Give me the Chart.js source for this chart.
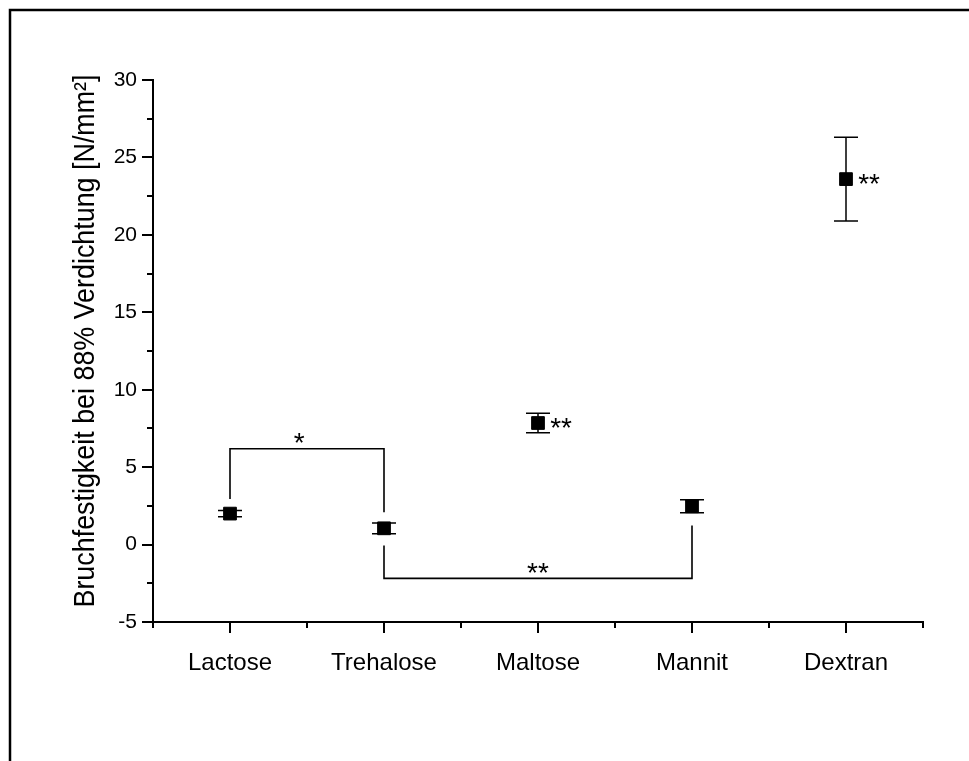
<!DOCTYPE html>
<html><head><meta charset="utf-8">
<script src="https://cdn.jsdelivr.net/npm/chart.js@4"></script>
<style>html,body{margin:0;padding:0;background:#fff}canvas{display:block}</style>
</head><body>
<canvas id="c" width="969" height="761"></canvas>
<script>
const categories = ['Lactose','Trehalose','Maltose','Mannit','Dextran'];
const means = [2.0, 1.05, 7.85, 2.47, 23.6];
const errors = [0.2, 0.35, 0.63, 0.42, 2.7];
const yTickValues = [-5,-2.5,0,2.5,5,7.5,10,12.5,15,17.5,20,22.5,25,27.5,30];
const xTickValues = [-0.5,0,0.5,1,1.5,2,2.5,3,3.5,4,4.5];
const yTitle = 'Bruchfestigkeit bei 88% Verdichtung [N/mm²]';
// significance brackets
const bracketFrom = [0, 1];
const bracketTo = [1, 3];
const bracketStartY = [2.95, -0.06];
const bracketBarY = [6.19, -2.18];
const bracketEndY = [2.09, 1.23];
const bracketLabels = ['*', '**'];
const bracketLabelX = [0.45, 2];
const bracketLabelY = [6.85, -1.5];
// asterisks beside points
const markLabels = ['**', '**'];
const markX = [2.15, 4.15];
const markY = [7.85, 23.6];

const FONT = "'Liberation Sans', Arial, sans-serif";

function centeredText(ctx, txt, x, y) {
  const m = ctx.measureText(txt);
  const a = m.actualBoundingBoxAscent, d = m.actualBoundingBoxDescent;
  ctx.textBaseline = 'alphabetic';
  ctx.textAlign = 'center';
  ctx.fillText(txt, x, y + (a - d) / 2);
}

const customPlugin = {
  id: 'custom',
  beforeDraw(chart) {
    const ctx = chart.ctx;
    ctx.save();
    ctx.fillStyle = '#fff';
    ctx.fillRect(0, 0, chart.width, chart.height);
    ctx.strokeStyle = '#000';
    ctx.lineWidth = 2.5;
    ctx.strokeRect(10, 10, 1200, 1200);
    ctx.restore();
  },
  beforeDatasetsDraw(chart) {
    const ctx = chart.ctx, xs = chart.scales.x, ys = chart.scales.y;
    ctx.save();
    ctx.strokeStyle = '#000';
    ctx.lineWidth = 1.5;
    // error bars
    means.forEach((m, i) => {
      const x = xs.getPixelForValue(i);
      const yt = ys.getPixelForValue(m + errors[i]);
      const yb = ys.getPixelForValue(m - errors[i]);
      ctx.beginPath();
      ctx.moveTo(x, yt); ctx.lineTo(x, yb);
      ctx.moveTo(x - 12, yt); ctx.lineTo(x + 12, yt);
      ctx.moveTo(x - 12, yb); ctx.lineTo(x + 12, yb);
      ctx.stroke();
    });
    // brackets
    ctx.lineWidth = 1.6;
    bracketFrom.forEach((f, i) => {
      const x1 = xs.getPixelForValue(f), x2 = xs.getPixelForValue(bracketTo[i]);
      ctx.beginPath();
      ctx.moveTo(x1, ys.getPixelForValue(bracketStartY[i]));
      ctx.lineTo(x1, ys.getPixelForValue(bracketBarY[i]));
      ctx.lineTo(x2, ys.getPixelForValue(bracketBarY[i]));
      ctx.lineTo(x2, ys.getPixelForValue(bracketEndY[i]));
      ctx.stroke();
    });
    ctx.fillStyle = '#000';
    ctx.font = '28px ' + FONT;
    bracketLabels.forEach((t, i) => {
      centeredText(ctx, t, xs.getPixelForValue(bracketLabelX[i]), ys.getPixelForValue(bracketLabelY[i]));
    });
    markLabels.forEach((t, i) => {
      centeredText(ctx, t, xs.getPixelForValue(markX[i]), ys.getPixelForValue(markY[i]));
    });
    ctx.restore();
  },
  afterDraw(chart) {
    const ctx = chart.ctx, xs = chart.scales.x, ys = chart.scales.y, ca = chart.chartArea;
    ctx.save();
    ctx.strokeStyle = '#000';
    ctx.lineWidth = 2;
    ctx.beginPath();
    yTickValues.forEach(v => {
      const y = Math.round(ys.getPixelForValue(v));
      const len = (v % 5 === 0) ? 11 : 6;
      ctx.moveTo(ca.left - len, y); ctx.lineTo(ca.left, y);
    });
    xTickValues.forEach(v => {
      const x = Math.round(xs.getPixelForValue(v));
      const len = Number.isInteger(v) ? 11 : 6;
      ctx.moveTo(x, ca.bottom); ctx.lineTo(x, ca.bottom + len);
    });
    ctx.stroke();
    // y title
    ctx.fillStyle = '#000';
    ctx.font = '29px ' + FONT;
    const w = ctx.measureText(yTitle).width;
    const s = 533 / w;
    ctx.translate(94, (ys.getPixelForValue(30) + ys.getPixelForValue(-5)) / 2 - 10);
    ctx.rotate(-Math.PI / 2);
    ctx.scale(s, 1);
    ctx.textAlign = 'center';
    ctx.textBaseline = 'alphabetic';
    ctx.fillText(yTitle, 0, 0);
    ctx.restore();
  }
};

new Chart(document.getElementById('c'), {
  type: 'scatter',
  data: {
    datasets: [{
      data: means.map((m, i) => ({ x: i, y: m })),
      pointStyle: 'rect',
      pointRadius: 9,
      pointHoverRadius: 9,
      backgroundColor: '#000',
      borderColor: '#000',
      borderWidth: 1
    }]
  },
  options: {
    responsive: false,
    animation: false,
    devicePixelRatio: 1,
    layout: { padding: { left: 0, top: 80, right: 46, bottom: 0 } },
    plugins: { legend: { display: false }, tooltip: { enabled: false } },
    scales: {
      x: {
        type: 'linear', min: -0.5, max: 4.5,
        afterBuildTicks: (scale) => { scale.ticks = xTickValues.map(v => ({ value: v })); },
        afterFit: (scale) => { scale.height = 761 - 622; },
        grid: { display: false, drawTicks: false },
        border: { display: true, color: '#000', width: 2 },
        ticks: {
          autoSkip: false, maxRotation: 0, padding: 27, color: '#000',
          font: { family: FONT, size: 24 },
          callback: (v) => Number.isInteger(v) ? categories[v] : ''
        }
      },
      y: {
        min: -5, max: 30,
        afterBuildTicks: (scale) => { scale.ticks = yTickValues.map(v => ({ value: v })); },
        afterFit: (scale) => { scale.width = 153; },
        grid: { display: false, drawTicks: false },
        border: { display: true, color: '#000', width: 2 },
        ticks: {
          autoSkip: false, padding: 16, color: '#000',
          font: { family: FONT, size: 21 },
          callback: (v) => (v % 5 === 0) ? String(v) : ''
        }
      }
    }
  },
  plugins: [customPlugin]
});
</script>
</body></html>
